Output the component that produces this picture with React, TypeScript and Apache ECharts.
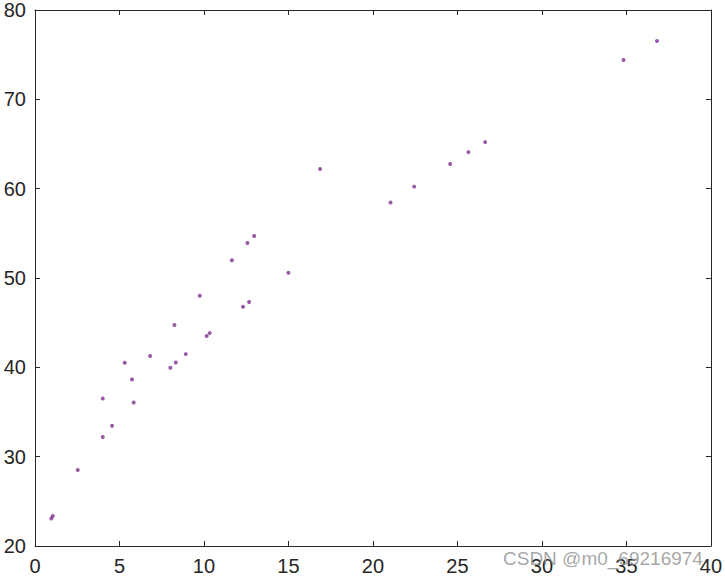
import React, { useEffect, useRef } from "react";
import * as echarts from "echarts";

const xValues = [
  11.65, 12.57, 12.97, 15.0, 16.87,
  9.75, 12.31, 12.67, 8.25, 10.16, 10.34, 8.92, 6.81, 5.31, 8.33, 8.01, 5.74,
  4.01, 5.84, 4.56, 4.01, 2.53, 1.05, 0.97,
  36.81, 34.83, 26.64, 25.65, 24.57, 22.44, 21.04,
];
const yValues = [
  51.98, 53.92, 54.71, 50.59, 62.21,
  48.02, 46.78, 47.31, 44.73, 43.5, 43.83, 41.48, 41.26, 40.51, 40.55, 39.95, 38.65,
  36.52, 36.07, 33.45, 32.21, 28.51, 23.36, 23.07,
  76.53, 74.4, 65.21, 64.09, 62.77, 60.23, 58.44,
];
const xTicks = { min: 0, max: 40, interval: 5 };
const yTicks = { min: 20, max: 80, interval: 10 };
const watermark = "CSDN @m0_69216974";

export default function App() {
  const ref = useRef<HTMLDivElement>(null);
  useEffect(() => {
    if (!ref.current) return;
    const chart = echarts.init(ref.current, null, { renderer: "svg" });
    const axisColor = "#262626";
    const font = "Liberation Sans, Arial, Helvetica, sans-serif";
    const lineStyle = { color: axisColor, width: 1 };
    const points = xValues.map((x, i) => [x, yValues[i]]);
    chart.setOption({
      animation: false,
      backgroundColor: "#ffffff",
      grid: { left: 35, right: 14, top: 10, bottom: 32, containLabel: false },
      xAxis: [
        {
          type: "value",
          position: "bottom",
          ...xTicks,
          axisLine: { show: true, onZero: false, lineStyle },
          axisTick: { show: true, inside: true, length: 5, lineStyle },
          splitLine: { show: false },
          axisLabel: { color: axisColor, fontSize: 20, fontFamily: font, margin: 10 },
        },
        {
          type: "value",
          position: "top",
          ...xTicks,
          axisLine: { show: true, onZero: false, lineStyle },
          axisTick: { show: true, inside: true, length: 5, lineStyle },
          splitLine: { show: false },
          axisLabel: { show: false },
        },
      ],
      yAxis: [
        {
          type: "value",
          position: "left",
          ...yTicks,
          axisLine: { show: true, onZero: false, lineStyle },
          axisTick: { show: true, inside: true, length: 5, lineStyle },
          splitLine: { show: false },
          axisLabel: { color: axisColor, fontSize: 20, fontFamily: font, margin: 9 },
        },
        {
          type: "value",
          position: "right",
          ...yTicks,
          axisLine: { show: true, onZero: false, lineStyle },
          axisTick: { show: true, inside: true, length: 5, lineStyle },
          splitLine: { show: false },
          axisLabel: { show: false },
        },
      ],
      series: [
        {
          type: "scatter",
          xAxisIndex: 0,
          yAxisIndex: 0,
          data: points,
          symbol: "circle",
          symbolSize: 4,
          itemStyle: { color: "#7E2F8E" },
        },
      ],
      graphic: [
        {
          type: "text",
          left: 503,
          top: 549,
          z: 100,
          style: {
            text: watermark,
            fill: "rgba(150,150,150,0.85)",
            fontSize: 19,
            fontFamily: font,
          },
        },
      ],
    });
    return () => chart.dispose();
  }, []);
  return (
    <div
      ref={ref}
      style={{ position: "absolute", left: 0, top: 0, width: 725, height: 578 }}
    />
  );
}
